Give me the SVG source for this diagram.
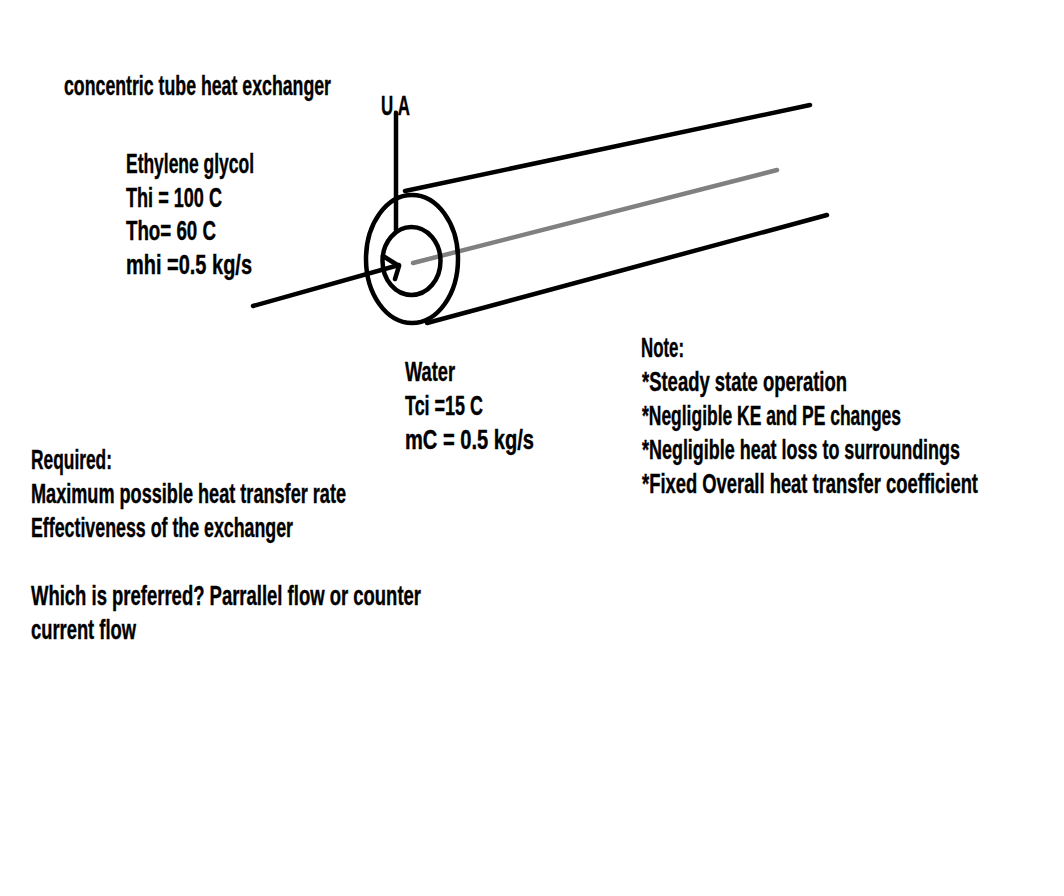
<svg xmlns="http://www.w3.org/2000/svg" width="1064" height="896" viewBox="0 0 1064 896">
<style>
text{font-family:"Liberation Sans Narrow","Liberation Sans",Arial,sans-serif;font-weight:700;font-size:27px;fill:#000;stroke:#000;stroke-width:.4}
.l{fill:none;stroke:#000;stroke-width:4.500;stroke-linecap:round;stroke-linejoin:round}
.g{stroke:#808080}
</style>
<rect width="1064" height="896" fill="#fff"/>
<g id="connectors">
<path class="l" d="M405 191L810 105"/>
<path class="l" d="M427 323L827 215"/>
<path class="l g" d="M413 263L777 170"/>
<path class="l" d="M396 113V230"/>
<path class="l" d="M253 306L399 265"/>
<path class="l" d="M383 256L399 266L395 279"/>
</g>
<g id="tube">
<ellipse class="l" cx="412" cy="259" rx="46" ry="64"/>
<ellipse class="l" cx="411.500" cy="261" rx="29" ry="34"/>
</g>
<g id="title"><text x="64" y="95" textLength="267" lengthAdjust="spacingAndGlyphs">concentric tube heat exchanger</text></g>
<g id="ua"><text x="381" y="115" textLength="29" lengthAdjust="spacingAndGlyphs">U.A</text></g>
<g id="glycol">
<text x="126" y="173" textLength="128" lengthAdjust="spacingAndGlyphs">Ethylene glycol</text>
<text x="126" y="207" textLength="96" lengthAdjust="spacingAndGlyphs">Thi = 100 C</text>
<text x="126" y="240" textLength="90" lengthAdjust="spacingAndGlyphs">Tho= 60 C</text>
<text x="126" y="274" textLength="126" lengthAdjust="spacingAndGlyphs">mhi =0.5 kg/s</text>
</g>
<g id="water">
<text x="405" y="381" textLength="50" lengthAdjust="spacingAndGlyphs">Water</text>
<text x="405" y="415" textLength="78" lengthAdjust="spacingAndGlyphs">Tci =15 C</text>
<text x="405" y="449" textLength="129" lengthAdjust="spacingAndGlyphs">mC = 0.5 kg/s</text>
</g>
<g id="note">
<text x="641" y="357" textLength="43" lengthAdjust="spacingAndGlyphs">Note:</text>
<text x="642" y="391" textLength="205" lengthAdjust="spacingAndGlyphs">*Steady state operation</text>
<text x="642" y="425" textLength="259" lengthAdjust="spacingAndGlyphs">*Negligible KE and PE changes</text>
<text x="642" y="459" textLength="318" lengthAdjust="spacingAndGlyphs">*Negligible heat loss to surroundings</text>
<text x="642" y="493" textLength="336" lengthAdjust="spacingAndGlyphs">*Fixed Overall heat transfer coefficient</text>
</g>
<g id="required">
<text x="31" y="469" textLength="81" lengthAdjust="spacingAndGlyphs">Required:</text>
<text x="31" y="503" textLength="315" lengthAdjust="spacingAndGlyphs">Maximum possible heat transfer rate</text>
<text x="31" y="537" textLength="262" lengthAdjust="spacingAndGlyphs">Effectiveness of the exchanger</text>
<text x="31" y="605" textLength="390" lengthAdjust="spacingAndGlyphs">Which is preferred? Parrallel flow or counter</text>
<text x="31" y="639" textLength="105" lengthAdjust="spacingAndGlyphs">current flow</text>
</g>
</svg>
